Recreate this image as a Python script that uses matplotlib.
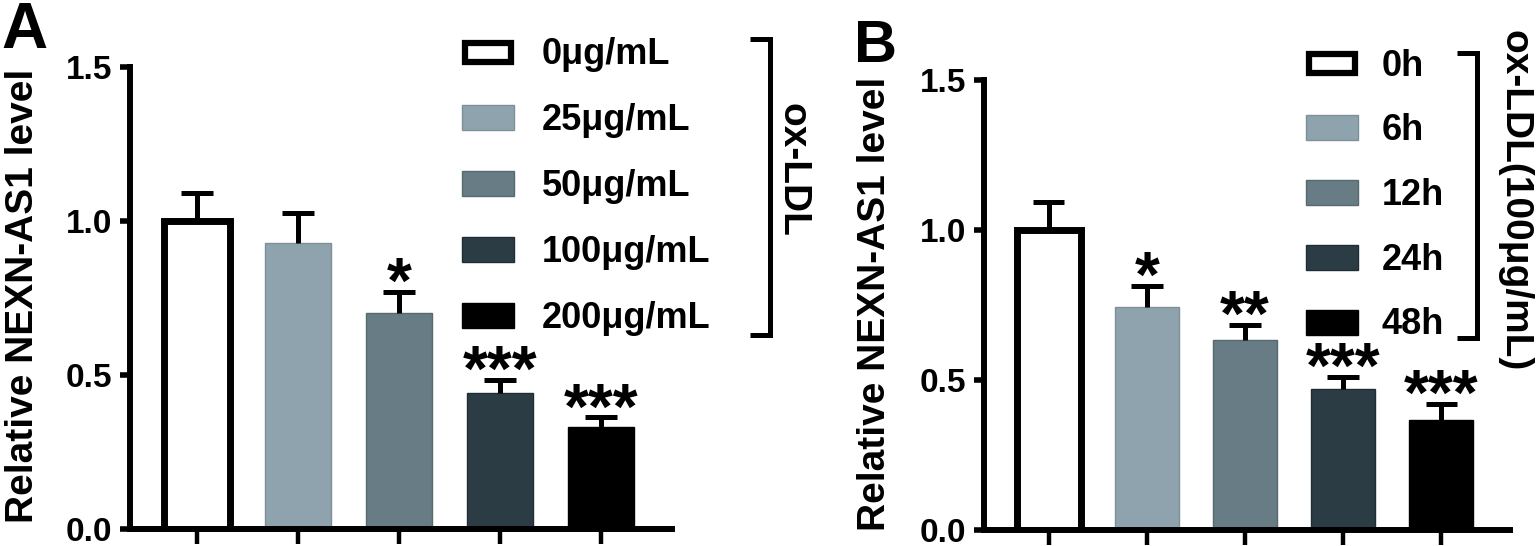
import matplotlib
matplotlib.use('Agg')
import matplotlib.pyplot as plt
from matplotlib.patches import Rectangle
import numpy as np

plt.rcParams['font.family'] = ['Liberation Sans', 'DejaVu Sans']
plt.rcParams['font.weight'] = 'bold'

# panel A: ox-LDL dose
dose_labels = ['0μg/mL', '25μg/mL', '50μg/mL', '100μg/mL', '200μg/mL']
dose_means = [1.00, 0.93, 0.70, 0.44, 0.33]
dose_err = [0.09, 0.095, 0.07, 0.045, 0.033]
dose_stars = ['', '', '*', '***', '***']

# panel B: ox-LDL (100μg/mL) time
time_labels = ['0h', '6h', '12h', '24h', '48h']
time_means = [1.00, 0.745, 0.632, 0.47, 0.368]
time_err = [0.095, 0.068, 0.053, 0.041, 0.052]
time_stars = ['', '*', '**', '***', '***']

colors = ['white', '#8fa3ae', '#687c86', '#2b3c45', '#000000']
edges = ['black', '#7d909a', '#56696f', '#1f2d34', '#000000']

W, H = 1536, 546
fig = plt.figure(figsize=(W / 100, H / 100), dpi=100)


def px_axes(l, t, r, b):
    return fig.add_axes([l / W, 1 - b / H, (r - l) / W, (b - t) / H])


def draw_panel(ax, means, errs, stars):
    x = np.arange(len(means))
    means = np.array(means)
    tops = means + np.array(errs)
    for i in range(len(means)):
        lw = 5 if i == 0 else 1
        ax.bar(x[i], means[i], width=0.65, color=colors[i], edgecolor=edges[i],
               linewidth=lw, zorder=2)
    # upper error bars only
    ax.vlines(x, means, tops, color='black', linewidth=3.6, zorder=3)
    ax.hlines(tops, x - 0.16, x + 0.16, color='black', linewidth=3.6, zorder=3)
    for i, s in enumerate(stars):
        if s:
            ax.annotate(s, (x[i], tops[i]), xytext=(0, -8),
                        textcoords='offset points', ha='center', va='baseline',
                        fontsize=46, fontweight='bold')
    ax.set_xlim(-0.66, 4.70)
    ax.set_ylim(0, 1.5)
    ax.set_yticks([0, 0.5, 1.0, 1.5])
    ax.set_yticklabels(['0.0', '0.5', '1.0', '1.5'])
    ax.set_xticks(x)
    ax.set_xticklabels([])
    for s in ['top', 'right']:
        ax.spines[s].set_visible(False)
    for s in ['left', 'bottom']:
        ax.spines[s].set_linewidth(4.3)
    ax.tick_params(axis='y', length=7, width=4, labelsize=24, pad=6)
    ax.tick_params(axis='x', length=11, width=3.2)
    ax.patch.set_alpha(0)


axA = px_axes(130, 67, 672, 529)
draw_panel(axA, dose_means, dose_err, dose_stars)
axB = px_axes(984, 80, 1510, 530)
draw_panel(axB, time_means, time_err, time_stars)

# overlay in pixel coordinates for labels, legends and brackets
ov = fig.add_axes([0, 0, 1, 1], zorder=-1)
ov.set_xlim(0, W)
ov.set_ylim(H, 0)
ov.axis('off')

ylab = 'Relative NEXN-AS1 level'
ov.text(33, 296, ylab, rotation=90, rotation_mode='anchor', ha='center',
        va='baseline', fontsize=28)
ov.text(885, 304, ylab, rotation=90, rotation_mode='anchor', ha='center',
        va='baseline', fontsize=28)
ov.text(1, 48, 'A', fontsize=46, va='baseline', ha='left')
ov.text(854, 62, 'B', fontsize=43, va='baseline', ha='left')


def draw_legend(labels, x0, y0, dy, tx, bx, by0, by1, title, title_x, title_y):
    for i, lab in enumerate(labels):
        yc = y0 + dy * i
        lw = 4.5 if i == 0 else 1
        inset = 3 if i == 0 else 0
        ov.add_patch(Rectangle((x0 + inset, yc - 12.5 + inset), 52 - 2 * inset, 25 - 2 * inset,
                               facecolor=colors[i], edgecolor=edges[i], linewidth=lw))
        ov.text(tx, yc + 12.5, lab, fontsize=26, ha='left', va='baseline')
    ov.plot([bx - 20, bx, bx, bx - 20], [by0, by0, by1, by1], color='black',
            linewidth=3.6, solid_joinstyle='miter', solid_capstyle='butt')
    ov.text(title_x, title_y, title, rotation=270, rotation_mode='anchor',
            ha='center', va='baseline', fontsize=28)


draw_legend(dose_labels, 462, 52, 65.75, 542, 770, 39, 335, 'ox-LDL', 782, 170)
draw_legend(time_labels, 1306, 63, 64.75, 1382, 1477, 53, 338,
            'ox-LDL(100μg/mL)', 1505, 201)

fig.savefig('out.png', dpi=100)
